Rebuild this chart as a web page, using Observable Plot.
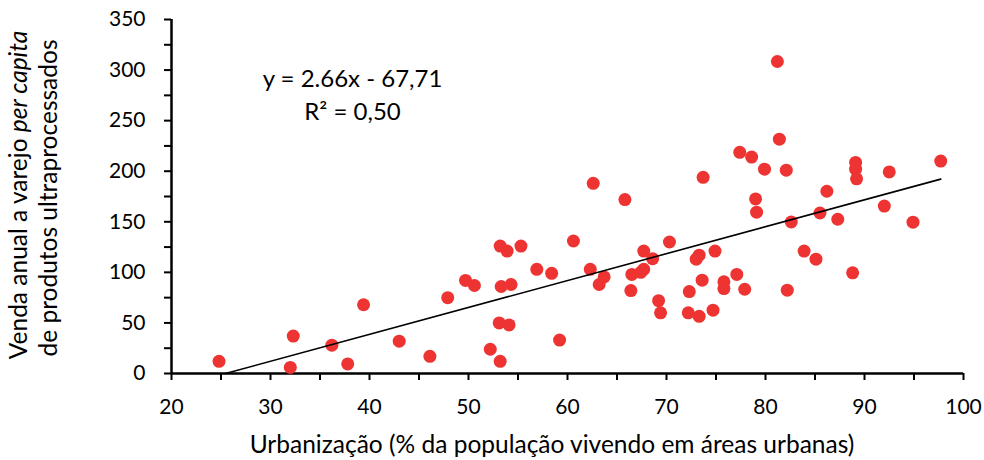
<!DOCTYPE html>
<html><head><meta charset="utf-8">
<script src="https://cdn.jsdelivr.net/npm/d3@7"></script>
<script src="https://cdn.jsdelivr.net/npm/@observablehq/plot@0.6"></script>
<style>
body{margin:0;background:#fff;font-family:Lato,"Open Sans",sans-serif}
#chart svg{display:block}
</style>
</head><body><div id="chart"></div>
<script>
// Urbanization (% population living in urban areas)
const urbanization = [
  24.8, 32.3, 32.0, 36.2, 37.8, 39.4, 43.0, 46.1, 47.9, 49.7,
  50.6, 53.2, 53.9, 55.3, 53.3, 54.3, 53.1, 54.1, 52.2, 53.2,
  56.9, 58.4, 60.6, 59.2, 62.3, 63.7, 63.2, 62.6, 65.8, 66.5,
  67.4, 67.7, 66.4, 67.7, 68.6, 70.3, 69.2, 69.4, 72.3, 72.2,
  73.3, 73.0, 73.3, 74.9, 73.7, 73.6, 74.7, 75.8, 75.8, 77.1,
  77.9, 77.4, 78.6, 79.9, 79.0, 79.1, 81.2, 81.4, 82.1, 82.6,
  82.2, 83.9, 85.1, 85.5, 86.2, 87.3, 88.8, 89.1, 89.1, 89.2,
  92.5, 92.0, 94.9, 97.7
];
// Annual per capita retail sales of ultra-processed products
const sales = [
  12, 37, 6, 28, 9.5, 68, 32, 17, 75, 92,
  87, 126, 121, 126, 86, 88, 50, 48, 24, 12,
  103, 99, 131, 33, 103, 95.5, 88, 188, 172, 98,
  100, 103, 82, 121, 113.5, 130, 72, 60, 81, 60,
  56.5, 113, 117, 121, 194, 92.3, 62.6, 90.6, 84, 98,
  83.3, 218.7, 214, 202, 172.6, 159.5, 308.5, 231.7, 201, 149.8,
  82.4, 121, 113, 158.7, 180.2, 152.5, 99.5, 208.7, 202, 192.5,
  199.3, 165.5, 149.6, 210
];
const xTicks = [20, 25, 30, 35, 40, 45, 50, 55, 60, 65, 70, 75, 80, 85, 90, 95, 100];
const yTicks = [0, 25, 50, 75, 100, 125, 150, 175, 200, 225, 250, 275, 300, 325, 350];
const slope = 2.66, intercept = -67.71;
const equationLabel = "y = 2.66x - 67,71";
const r2Label = "R² = 0,50";
const xTitle = "Urbanização (% da população vivendo em áreas urbanas)";
const yTitleA = "Venda anual a varejo ";
const yTitleB = "per capita";
const yTitle2 = "de produtos ultraprocessados";

const points = urbanization.map((u, i) => ({x: u, y: sales[i]}));
const xStart = -intercept / slope, xEnd = d3.max(urbanization);
const trend = [xStart, xEnd].map(x => ({x, y: slope * x + intercept}));

const W = 984, H = 460;
const chart = Plot.plot({
  width: W, height: H,
  marginLeft: 171, marginRight: 21, marginTop: 19, marginBottom: 87,
  style: {fontFamily: "Lato, 'Open Sans', sans-serif", fontSize: "21px", color: "#000", background: "#fff"},
  x: {domain: [20, 100]},
  y: {domain: [0, 350]},
  marks: [
    Plot.axisX({ticks: xTicks, tickFormat: d => d % 10 === 0 ? d : "", tickSize: 7, tickPadding: 19, strokeWidth: 2, stroke: "#000", fill: "#000", label: null}),
    Plot.axisY({ticks: yTicks, tickFormat: d => d % 50 === 0 ? d : "", tickSize: 7, tickPadding: 19, strokeWidth: 2, stroke: "#000", fill: "#000", label: null}),
    Plot.ruleY([0], {stroke: "#000", strokeWidth: 2.5}),
    Plot.ruleX([20], {stroke: "#000", strokeWidth: 2.5}),
    Plot.dot(points, {x: "x", y: "y", r: 6.5, fill: "#ee3432", stroke: "none"}),
    Plot.line(trend, {x: "x", y: "y", stroke: "#000", strokeWidth: 1.6}),
    Plot.text([equationLabel + "\n" + r2Label], {
      frameAnchor: "top-left", dx: 181, dy: 44, text: d => d,
      textAnchor: "middle", lineAnchor: "top", lineHeight: 1.375,
      fontSize: 24, fill: "#000"
    })
  ]
});
document.getElementById("chart").appendChild(chart);

const svg = d3.select(chart);
svg.append("text")
  .attr("x", 552).attr("y", 453)
  .attr("text-anchor", "middle")
  .attr("font-size", 24.5).attr("fill", "#000")
  .text(xTitle);
const yt = svg.append("g").attr("transform", "translate(0,195) rotate(-90)")
  .attr("font-size", 24.5).attr("fill", "#000").attr("text-anchor", "middle");
const l1 = yt.append("text").attr("x", 0).attr("y", 27);
l1.append("tspan").text(yTitleA);
l1.append("tspan").attr("font-style", "italic").text(yTitleB);
yt.append("text").attr("x", -3).attr("y", 57).text(yTitle2);
</script>
</body></html>
